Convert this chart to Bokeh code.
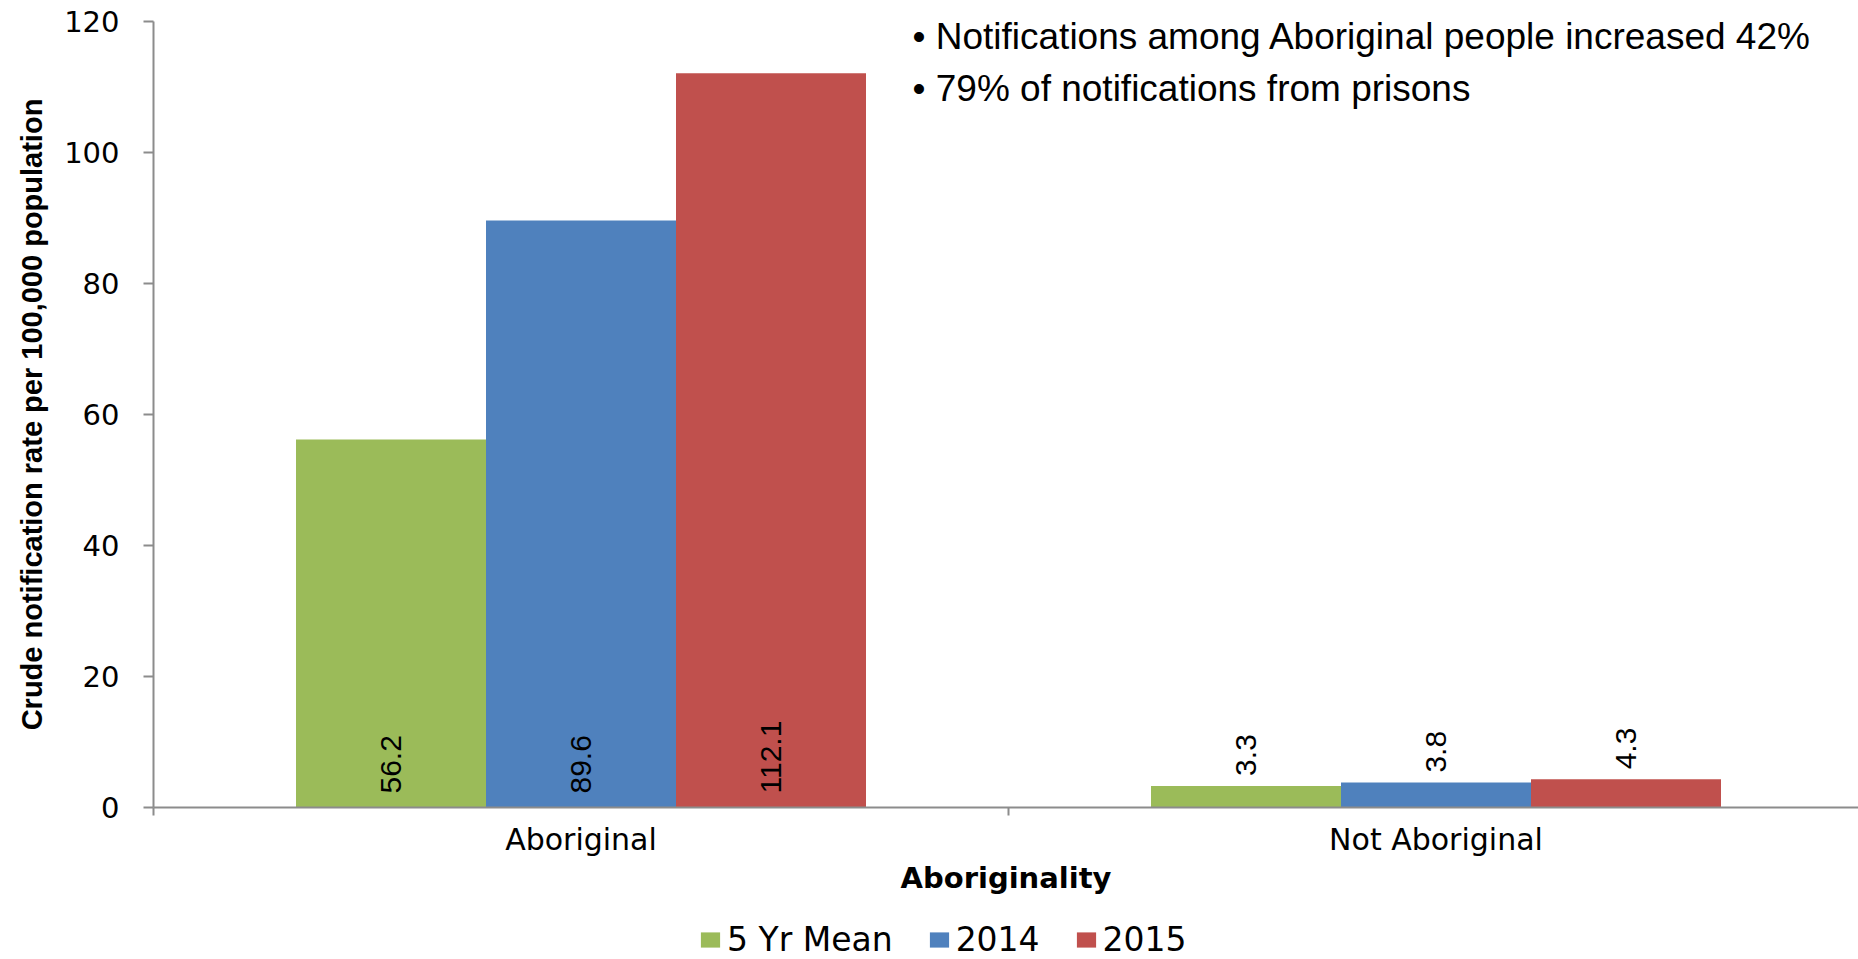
from bokeh.plotting import figure
from bokeh.layouts import column
from bokeh.models import (Range1d, FixedTicker, ColumnDataSource, LabelSet, Label,
                          Legend, LegendItem)
from bokeh.core.properties import value
from bokeh.embed import file_html
from bokeh.resources import INLINE

# ---------------- data ----------------
categories = ["Aboriginal", "Not Aboriginal"]
series_names = ["5 Yr Mean", "2014", "2015"]
mean_5yr = [56.2, 3.3]
rate_2014 = [89.6, 3.8]
rate_2015 = [112.1, 4.3]
label_position = ["inside_base", "outside_end"]   # per category
y_ticks = [0, 20, 40, 60, 80, 100, 120]
notes = ["\u2022 Notifications among Aboriginal people increased 42%",
         "\u2022 79% of notifications from prisons"]
colors = ["#9BBB59", "#4F81BD", "#C0504D"]

series_values = [mean_5yr, rate_2014, rate_2015]

# ---------------- layout constants ----------------
W = 1858
H_MAIN, H_LEG = 899, 60
BL, BR, BT, BB = 153, 0, 21, 92
frame_w = W - BL - BR
px_per_cat = 855.0
GRAY = "#8c8c8c"
note_y = [771, 719]     # screen px above the frame bottom

p = figure(width=W, height=H_MAIN, output_backend="svg", toolbar_location=None,
           x_range=Range1d(0, frame_w / px_per_cat), y_range=Range1d(0, 120),
           min_border_left=BL, min_border_right=BR, min_border_top=BT,
           min_border_bottom=BB, background_fill_color="white",
           border_fill_color="white")
p.outline_line_color = None
p.xgrid.visible = False
p.ygrid.visible = False

bar_w = 1.0 / 4.5          # gap width 150%
centers = [i + 0.5 for i in range(len(categories))]

lab_x, lab_y, lab_t, lab_off = [], [], [], []
for si, (name, vals, col) in enumerate(zip(series_names, series_values, colors)):
    xs = [c + (si - 1) * bar_w for c in centers]
    src = ColumnDataSource(dict(x=xs, top=vals))
    p.vbar(x="x", top="top", width=bar_w, bottom=0, source=src,
           fill_color=col, line_color=None)
    for ci, v in enumerate(vals):
        lab_x.append(xs[ci])
        lab_t.append(f"{v:.1f}")
        if label_position[ci] == "inside_base":
            lab_y.append(0)
            lab_off.append(14)
        else:
            lab_y.append(v)
            lab_off.append(10)

lab_src = ColumnDataSource(dict(x=lab_x, y=lab_y, text=lab_t, off=lab_off))
labels = LabelSet(x="x", y="y", text="text", source=lab_src, y_offset="off",
                  angle=90, angle_units="deg", text_align="left",
                  text_baseline="middle", text_font=value("Liberation Sans"),
                  text_font_size="30px", text_color="black")
p.add_layout(labels)

# ---------------- axes ----------------
ya = p.yaxis[0]
ya.ticker = FixedTicker(ticks=y_ticks)
ya.axis_line_color = GRAY
ya.axis_line_width = 2
ya.major_tick_line_color = GRAY
ya.major_tick_line_width = 2
ya.major_tick_out = 10
ya.major_tick_in = 0
ya.minor_tick_line_color = None
ya.major_label_standoff = 24
ya.major_label_text_font = "DejaVu Sans"
ya.major_label_text_font_size = "29px"
ya.major_label_text_color = "black"
ya.axis_label = "Crude notification rate per 100,000 population"
ya.axis_label_text_font = "Liberation Sans"
ya.axis_label_text_font_style = "bold"
ya.axis_label_text_font_size = "29px"
ya.axis_label_text_color = "black"
ya.axis_label_standoff = 13

xa = p.xaxis[0]
xa.ticker = FixedTicker(ticks=centers, minor_ticks=[0, 1, 2])
xa.major_label_overrides = {c: n for c, n in zip(centers, categories)}
xa.axis_line_color = GRAY
xa.axis_line_width = 2
xa.major_tick_line_color = None
xa.major_tick_out = 0
xa.major_tick_in = 0
xa.minor_tick_line_color = GRAY
xa.minor_tick_line_width = 2
xa.minor_tick_out = 8
xa.minor_tick_in = 0
xa.major_label_standoff = 6
xa.major_label_text_font = "DejaVu Sans"
xa.major_label_text_font_size = "30px"
xa.major_label_text_color = "black"
xa.axis_label = "Aboriginality"
xa.axis_label_text_font = "DejaVu Sans"
xa.axis_label_text_font_style = "bold"
xa.axis_label_text_font_size = "29px"
xa.axis_label_text_color = "black"
xa.axis_label_standoff = 1

# ---------------- notes ----------------
for t, ny in zip(notes, note_y):
    p.add_layout(Label(x=759, y=ny, x_units="screen", y_units="screen",
                       text=t, text_font="Liberation Sans", text_font_size="37px",
                       text_baseline="alphabetic", text_align="left",
                       text_color="black"))

# ---------------- legend (separate strip below the chart) ----------------
lf = figure(width=W, height=H_LEG, output_backend="svg", toolbar_location=None,
            x_range=Range1d(0, 1), y_range=Range1d(0, 1),
            x_axis_location=None, y_axis_location=None, min_border=0,
            background_fill_color="white", border_fill_color="white")
lf.outline_line_color = None
lf.xgrid.visible = False
lf.ygrid.visible = False
leg_renderers = []
for name, col in zip(series_names, colors):
    # legend proxy glyph, kept outside the visible range of this strip
    leg_renderers.append(lf.vbar(x=[-5], top=[0], width=0.1, bottom=0,
                                 fill_color=col, line_color=None))

legend = Legend(items=[LegendItem(label=n, renderers=[r])
                       for n, r in zip(series_names, leg_renderers)],
                orientation="horizontal", location=(545, 0),
                glyph_width=24, glyph_height=19, label_standoff=5, spacing=34,
                padding=0, margin=0, border_line_color=None,
                background_fill_alpha=0, label_text_font="DejaVu Sans",
                label_text_font_size="33px", label_text_color="black")
lf.add_layout(legend)

layout = column(p, lf, spacing=0)
open("out.html", "w").write(file_html(layout, INLINE))
